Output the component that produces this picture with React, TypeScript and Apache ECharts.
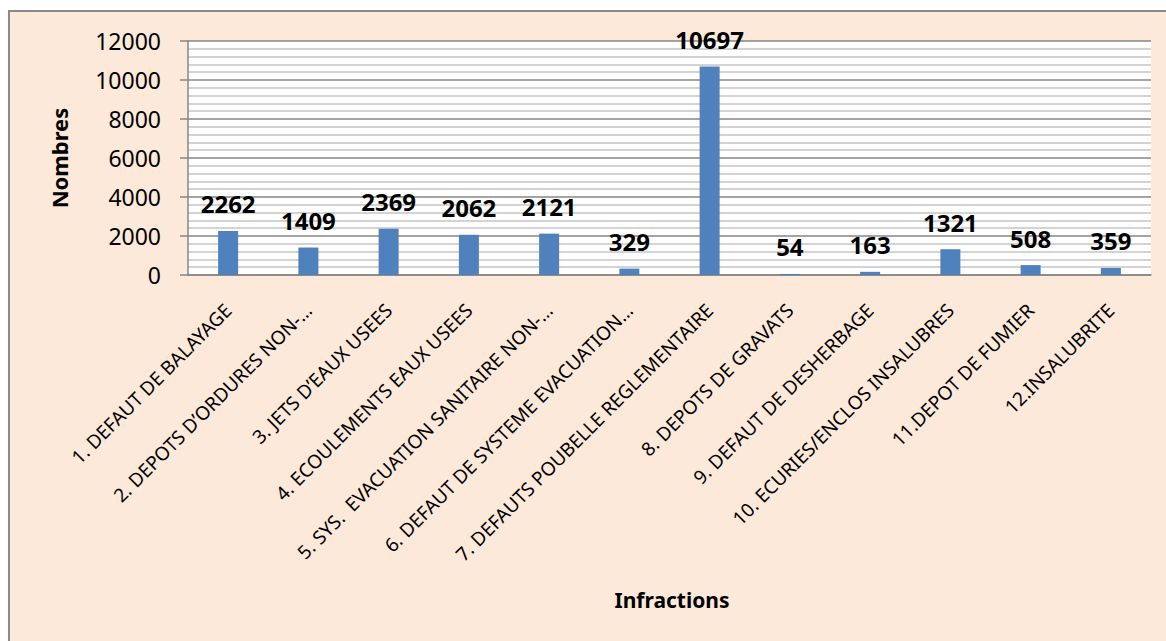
import React, { useEffect, useRef } from "react";
import * as echarts from "echarts";

const categories = [
  "1. DEFAUT DE BALAYAGE",
  "2. DEPOTS D’ORDURES NON-…",
  "3. JETS D’EAUX USEES",
  "4. ECOULEMENTS EAUX USEES",
  "5. SYS.  EVACUATION SANITAIRE NON-…",
  "6. DEFAUT DE SYSTEME EVACUATION…",
  "7. DEFAUTS POUBELLE REGLEMENTAIRE",
  "8. DEPOTS DE GRAVATS",
  "9. DEFAUT DE DESHERBAGE",
  "10. ECURIES/ENCLOS INSALUBRES",
  "11.DEPOT DE FUMIER",
  "12.INSALUBRITE",
];
const values = [2262, 1409, 2369, 2062, 2121, 329, 10697, 54, 163, 1321, 508, 359];
const yAxisTitle = "Nombres";
const xAxisTitle = "Infractions";

const FONT = "'Noto Sans', sans-serif";

export default function App() {
  const ref = useRef<HTMLDivElement>(null);
  useEffect(() => {
    if (!ref.current) return;
    const chart = echarts.init(ref.current, undefined, { renderer: "svg" });
    chart.setOption({
      animation: false,
      backgroundColor: "#ffffff",
      graphic: [
        {
          type: "rect",
          z: -10,
          silent: true,
          shape: { x: 9, y: 11, width: 1170, height: 640 },
          style: { fill: "#FDE9D9", stroke: "#8a8a8a", lineWidth: 2 },
        },
        {
          type: "text",
          x: 59,
          y: 158,
          rotation: Math.PI / 2,
          style: {
            text: yAxisTitle,
            align: "center",
            verticalAlign: "middle",
            font: `bold 22px ${FONT}`,
            fill: "#000",
          },
        },
        {
          type: "text",
          x: 672,
          y: 600,
          style: {
            text: xAxisTitle,
            align: "center",
            verticalAlign: "middle",
            font: `bold 21px ${FONT}`,
            fill: "#000",
          },
        },
      ],
      grid: {
        left: 188,
        right: 15,
        top: 41,
        bottom: 366,
        show: true,
        backgroundColor: "#ffffff",
        borderWidth: 0,
      },
      xAxis: {
        type: "category",
        data: categories,
        axisLine: { show: true, lineStyle: { color: "#868686", width: 1.5 } },
        axisTick: { show: false },
        axisLabel: {
          interval: 0,
          rotate: 45,
          margin: 32,
          fontSize: 19,
          fontFamily: FONT,
          color: "#000",
        },
      },
      yAxis: {
        type: "value",
        min: 0,
        max: 12000,
        interval: 2000,
        axisLine: { show: true, lineStyle: { color: "#868686", width: 1.5 } },
        axisTick: { show: true, length: 8, lineStyle: { color: "#868686", width: 1.5 } },
        axisLabel: {
          margin: 27,
          fontSize: 23,
          fontFamily: FONT,
          color: "#000",
          formatter: (v: number) => String(v),
        },
        splitLine: { show: true, lineStyle: { color: "#868686", width: 1.5 } },
        minorTick: { show: false, splitNumber: 5 },
        minorSplitLine: { show: true, lineStyle: { color: "#c4c4c4", width: 1.5 } },
      },
      series: [
        {
          type: "bar",
          data: values,
          barWidth: 20,
          itemStyle: { color: "#4F81BD" },
          label: {
            show: true,
            position: "top",
            distance: 15,
            fontSize: 24,
            fontWeight: "bold",
            fontFamily: FONT,
            color: "#000",
          },
        },
      ],
    });
    return () => chart.dispose();
  }, []);
  return (
    <div
      ref={ref}
      style={{ position: "absolute", left: 0, top: 0, width: 1166, height: 641 }}
    />
  );
}
